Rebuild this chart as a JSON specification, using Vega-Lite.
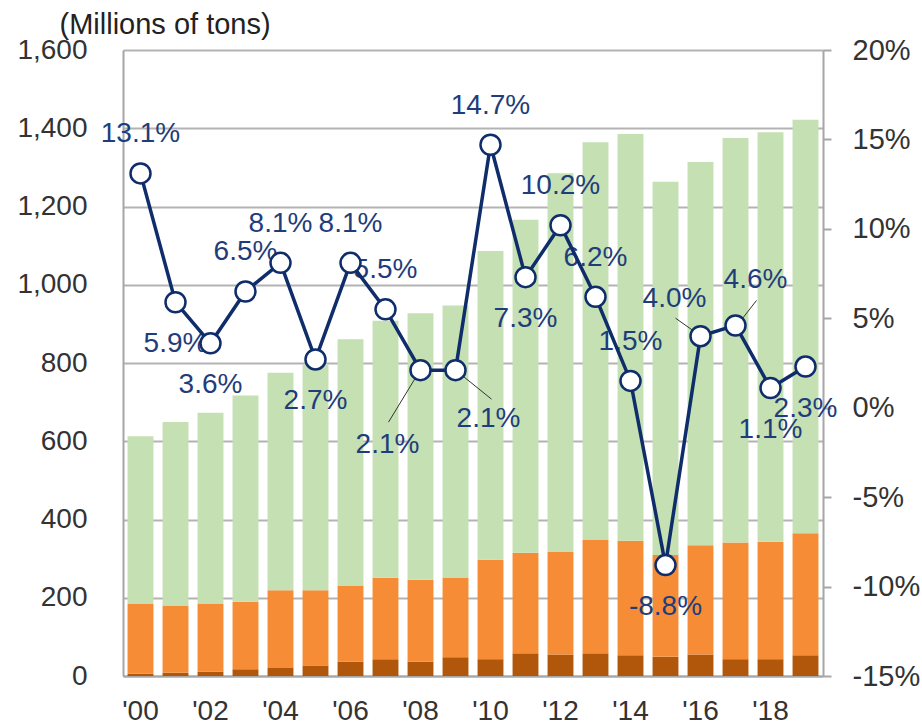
{
  "$schema": "https://vega.github.io/schema/vega-lite/v6.json",
  "width": 700,
  "height": 626,
  "autosize": {"type": "none"},
  "padding": {"left": 123, "top": 50, "right": 99, "bottom": 47},
  "background": "white",
  "config": {"view": {"stroke": null}, "font": "Liberation Sans"},
  "datasets": {
    "volumes": [
      {"year": 2000, "series1": 6, "series2": 179, "series3": 428},
      {"year": 2001, "series1": 8, "series2": 172, "series3": 469},
      {"year": 2002, "series1": 11, "series2": 174, "series3": 488},
      {"year": 2003, "series1": 17, "series2": 173, "series3": 527},
      {"year": 2004, "series1": 22, "series2": 197, "series3": 556},
      {"year": 2005, "series1": 27, "series2": 192, "series3": 577},
      {"year": 2006, "series1": 37, "series2": 194, "series3": 630},
      {"year": 2007, "series1": 43, "series2": 208, "series3": 657},
      {"year": 2008, "series1": 37, "series2": 209, "series3": 681},
      {"year": 2009, "series1": 48, "series2": 204, "series3": 695},
      {"year": 2010, "series1": 43, "series2": 254, "series3": 789},
      {"year": 2011, "series1": 58, "series2": 257, "series3": 851},
      {"year": 2012, "series1": 55, "series2": 263, "series3": 967},
      {"year": 2013, "series1": 58, "series2": 291, "series3": 1015},
      {"year": 2014, "series1": 53, "series2": 293, "series3": 1039},
      {"year": 2015, "series1": 49, "series2": 260, "series3": 954},
      {"year": 2016, "series1": 55, "series2": 279, "series3": 980},
      {"year": 2017, "series1": 43, "series2": 298, "series3": 1034},
      {"year": 2018, "series1": 43, "series2": 300, "series3": 1047},
      {"year": 2019, "series1": 53, "series2": 312, "series3": 1057}
    ],
    "growth": [
      {"year": 2000, "growth": 13.1},
      {"year": 2001, "growth": 5.9},
      {"year": 2002, "growth": 3.6},
      {"year": 2003, "growth": 6.5},
      {"year": 2004, "growth": 8.1},
      {"year": 2005, "growth": 2.7},
      {"year": 2006, "growth": 8.1},
      {"year": 2007, "growth": 5.5},
      {"year": 2008, "growth": 2.1},
      {"year": 2009, "growth": 2.1},
      {"year": 2010, "growth": 14.7},
      {"year": 2011, "growth": 7.3},
      {"year": 2012, "growth": 10.2},
      {"year": 2013, "growth": 6.2},
      {"year": 2014, "growth": 1.5},
      {"year": 2015, "growth": -8.8},
      {"year": 2016, "growth": 4.0},
      {"year": 2017, "growth": 4.6},
      {"year": 2018, "growth": 1.1},
      {"year": 2019, "growth": 2.3}
    ]
  },
  "layer": [
    {
      "data": {"name": "volumes"},
      "transform": [{"fold": ["series1", "series2", "series3"], "as": ["series", "value"]}],
      "mark": {"type": "bar"},
      "encoding": {
        "x": {
          "field": "year", "type": "ordinal",
          "scale": {"paddingInner": 0.26, "paddingOuter": 0.13},
          "axis": {
            "title": null, "labelAngle": 0, "ticks": false, "tickSize": 0,
            "labelPadding": 21, "labelFontSize": 28, "labelColor": "#333333",
            "domainColor": "#a6a6a6", "domainWidth": 2,
            "labelExpr": "datum.value % 2 == 0 ? \"'\" + slice(toString(datum.value), 2) : ''"
          }
        },
        "y": {
          "field": "value", "type": "quantitative", "aggregate": "sum", "stack": "zero",
          "scale": {"domain": [0, 1600], "nice": false},
          "axis": {
            "orient": "left", "values": [0, 200, 400, 600, 800, 1000, 1200, 1400, 1600],
            "format": ",.0f", "labelFontSize": 28, "labelColor": "#333333",
            "labelPadding": 36, "ticks": false, "tickSize": 0,
            "domainColor": "#a6a6a6", "domainWidth": 2,
            "grid": true, "gridColor": "#b3b3b3", "gridWidth": 2,
            "title": "(Millions of tons)", "titleAngle": 0, "titleX": -64, "titleY": -17,
            "titleAlign": "left", "titleBaseline": "alphabetic", "titleFontSize": 29,
            "titleFontWeight": "normal", "titleColor": "#222222"
          }
        },
        "color": {
          "field": "series", "type": "nominal",
          "scale": {"domain": ["series1", "series2", "series3"], "range": ["#b0570b", "#f68d36", "#c5e0b3"]},
          "legend": null
        },
        "order": {"field": "series", "sort": "ascending"}
      }
    },
    {
      "data": {"name": "growth"},
      "transform": [{"calculate": "replace(format(datum.growth, '.1f'), '\u2212', '-') + '%'", "as": "label"}],
      "encoding": {
        "x": {"field": "year", "type": "ordinal", "axis": {"title": null}},
        "y": {
          "field": "growth", "type": "quantitative",
          "scale": {"domain": [-15, 20], "nice": false},
          "axis": {
            "orient": "right", "values": [-15, -10, -5, 0, 5, 10, 15, 20],
            "labelExpr": "datum.value + '%'", "grid": false,
            "ticks": true, "tickSize": 8, "tickColor": "#a6a6a6", "tickWidth": 2,
            "domainColor": "#a6a6a6", "domainWidth": 2,
            "labelPadding": 21, "labelFontSize": 29, "labelColor": "#333333", "title": null
          }
        }
      },
      "layer": [
        {
          "transform": [{"filter": {"field": "year", "oneOf": [2000, 2003, 2004, 2006, 2007, 2010, 2012, 2013, 2014]}}],
          "mark": {"type": "text", "dy": -39, "fontSize": 28, "color": "#1f3d7a", "baseline": "middle"},
          "encoding": {"text": {"field": "label"}}
        },
        {
          "transform": [{"filter": {"field": "year", "oneOf": [2001, 2002, 2005, 2011, 2015, 2018, 2019]}}],
          "mark": {"type": "text", "dy": 42, "fontSize": 28, "color": "#1f3d7a", "baseline": "middle"},
          "encoding": {"text": {"field": "label"}}
        },
        {
          "transform": [{"filter": {"field": "year", "equal": 2008}}],
          "mark": {"type": "text", "dx": -33, "dy": 75, "fontSize": 28, "color": "#1f3d7a", "baseline": "middle"},
          "encoding": {"text": {"field": "label"}}
        },
        {
          "transform": [{"filter": {"field": "year", "equal": 2009}}],
          "mark": {"type": "text", "dx": 33, "dy": 49, "fontSize": 28, "color": "#1f3d7a", "baseline": "middle"},
          "encoding": {"text": {"field": "label"}}
        },
        {
          "transform": [{"filter": {"field": "year", "equal": 2016}}],
          "mark": {"type": "text", "dx": -26, "dy": -37, "fontSize": 28, "color": "#1f3d7a", "baseline": "middle"},
          "encoding": {"text": {"field": "label"}}
        },
        {
          "transform": [{"filter": {"field": "year", "equal": 2017}}],
          "mark": {"type": "text", "dx": 20, "dy": -45, "fontSize": 28, "color": "#1f3d7a", "baseline": "middle"},
          "encoding": {"text": {"field": "label"}}
        },
        {
          "transform": [{"filter": {"field": "year", "equal": 2008}}],
          "mark": {"type": "rule", "color": "#333333", "strokeWidth": 1, "xOffset": -4, "yOffset": 6, "x2Offset": -32, "y2Offset": 52},
          "encoding": {"x2": {"field": "year"}, "y2": {"field": "growth"}}
        },
        {
          "transform": [{"filter": {"field": "year", "equal": 2009}}],
          "mark": {"type": "rule", "color": "#333333", "strokeWidth": 1, "xOffset": 5, "yOffset": 4, "x2Offset": 36, "y2Offset": 29},
          "encoding": {"x2": {"field": "year"}, "y2": {"field": "growth"}}
        },
        {
          "transform": [{"filter": {"field": "year", "equal": 2016}}],
          "mark": {"type": "rule", "color": "#333333", "strokeWidth": 1, "xOffset": -8, "yOffset": -6, "x2Offset": -25, "y2Offset": -18},
          "encoding": {"x2": {"field": "year"}, "y2": {"field": "growth"}}
        },
        {
          "transform": [{"filter": {"field": "year", "equal": 2017}}],
          "mark": {"type": "rule", "color": "#333333", "strokeWidth": 1, "xOffset": 7, "yOffset": -7, "x2Offset": 21, "y2Offset": -25},
          "encoding": {"x2": {"field": "year"}, "y2": {"field": "growth"}}
        },
        {
          "mark": {"type": "line", "color": "#0f2d6b", "strokeWidth": 3.5}
        },
        {
          "mark": {"type": "point", "filled": true, "fill": "white", "stroke": "#0f2d6b", "strokeWidth": 2.5, "size": 400, "opacity": 1}
        }
      ]
    }
  ],
  "resolve": {"scale": {"y": "independent"}}
}
